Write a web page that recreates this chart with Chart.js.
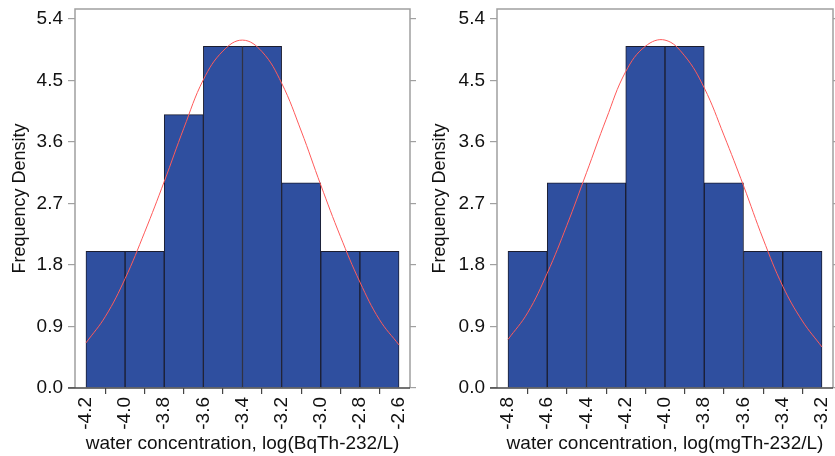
<!DOCTYPE html>
<html>
<head>
<meta charset="utf-8">
<script src="https://cdn.jsdelivr.net/npm/chart.js@4/dist/chart.umd.min.js"></script>
<style>
  html, body { margin: 0; padding: 0; background: #fff; }
  #wrap { position: relative; width: 835px; height: 456px; overflow: hidden; }
  .panel { position: absolute; top: 0; }
</style>
</head>
<body>
<div id="wrap">
  <div class="panel" style="left:0"><canvas id="c1" width="420" height="456"></canvas></div>
  <div class="panel" style="left:420px"><canvas id="c2" width="415" height="456"></canvas></div>
</div>
<script>
// Histogram bins (edges) and counts for each unit
const bqEdges = [-4.2, -4.0, -3.8, -3.6, -3.4, -3.2, -3.0, -2.8, -2.6];
const bqCounts = [2, 2, 4, 5, 5, 3, 2, 2];
const mgEdges = [-4.8, -4.6, -4.4, -4.2, -4.0, -3.8, -3.6, -3.4, -3.2];
const mgCounts = [2, 3, 3, 5, 5, 3, 2, 2];

// Fitted normal curves, sampled every 0.1
const bqCurveX = [-4.2, -4.1, -4.0, -3.9, -3.8, -3.7, -3.6, -3.5, -3.4, -3.3, -3.2, -3.1, -3.0, -2.9, -2.8, -2.7, -2.6];
const bqCurveY = [0.66, 1.05, 1.60, 2.28, 3.02, 3.80, 4.51, 4.93, 5.09, 4.92, 4.46, 3.76, 2.97, 2.22, 1.55, 1.00, 0.63];
const mgCurveX = [-4.8, -4.7, -4.6, -4.5, -4.4, -4.3, -4.2, -4.1, -4.0, -3.9, -3.8, -3.7, -3.6, -3.5, -3.4, -3.3, -3.2];
const mgCurveY = [0.71, 1.10, 1.68, 2.38, 3.15, 3.93, 4.63, 5.00, 5.09, 4.86, 4.39, 3.70, 2.96, 2.18, 1.49, 0.98, 0.60];

// Axis ticks
const yTicks = [0.0, 0.9, 1.8, 2.7, 3.6, 4.5, 5.4];
const bqXTicks = [-4.2, -4.0, -3.8, -3.6, -3.4, -3.2, -3.0, -2.8, -2.6];
const mgXTicks = [-4.8, -4.6, -4.4, -4.2, -4.0, -3.8, -3.6, -3.4, -3.2];

const yAxisTitle = 'Frequency Density';
const bqXTitle = 'water concentration, log(BqTh-232/L)';
const mgXTitle = 'water concentration, log(mgTh-232/L)';

const FONT = "'Liberation Sans', Arial, sans-serif";

// Frame around the plotting area
const framePlugin = {
  id: 'frame',
  afterDraw(chart) {
    const { ctx, chartArea: a } = chart;
    ctx.save();
    ctx.lineWidth = 1.5;
    ctx.strokeStyle = '#a0a0a0';
    ctx.beginPath();
    ctx.moveTo(a.left, a.bottom);
    ctx.lineTo(a.left, a.top);
    ctx.lineTo(a.right, a.top);
    ctx.lineTo(a.right, a.bottom);
    ctx.stroke();
    ctx.strokeStyle = '#444';
    ctx.beginPath();
    ctx.moveTo(a.left - 7, a.bottom);
    ctx.lineTo(a.right, a.bottom);
    ctx.stroke();
    ctx.restore();
  }
};

function makeHistogram(canvasId, edges, counts, curveX, curveY, xTicks, xTitle, leftW, rightW) {
  const bars = counts.map((c, i) => ({ x: (edges[i] + edges[i + 1]) / 2, y: c }));
  const curve = curveX.map((x, i) => ({ x: x, y: curveY[i] }));
  const span = edges[edges.length - 1] - edges[0];
  const pad = span * 0.035;
  const setTicks = (vals) => (scale) => { scale.ticks = vals.map(v => ({ value: v })); };
  const noPad = (s) => { s.paddingLeft = 0; s.paddingRight = 0; s.paddingTop = 0; s.paddingBottom = 0; };

  new Chart(document.getElementById(canvasId), {
    type: 'bar',
    data: {
      datasets: [
        {
          type: 'line',
          data: curve,
          borderColor: '#ff5a5a',
          borderWidth: 1,
          pointRadius: 0,
          tension: 0.4,
          fill: false,
          order: 0
        },
        {
          type: 'bar',
          data: bars,
          backgroundColor: '#2f4f9f',
          borderColor: '#1b1d30',
          borderWidth: { left: 1, right: 1, top: 1, bottom: 0 },
          borderSkipped: false,
          barPercentage: 1,
          categoryPercentage: 1,
          order: 1
        }
      ]
    },
    options: {
      responsive: false,
      animation: false,
      events: [],
      layout: { padding: { top: 9, left: 0, right: 0, bottom: 0 } },
      plugins: { legend: { display: false }, tooltip: { enabled: false } },
      scales: {
        x: {
          type: 'linear',
          offset: false,
          min: edges[0] - pad,
          max: edges[edges.length - 1] + pad,
          afterBuildTicks: setTicks(xTicks),
          afterFit: (s) => { s.height = 68; noPad(s); },
          grid: { drawOnChartArea: false, drawTicks: true, tickLength: 6, color: '#444', lineWidth: 1.2 },
          border: { display: false },
          ticks: {
            autoSkip: false,
            minRotation: 90,
            maxRotation: 90,
            padding: 3,
            color: '#111',
            font: { family: FONT, size: 19 },
            callback: (v) => Number(v).toFixed(1)
          },
          title: {
            display: true,
            text: xTitle,
            color: '#111',
            font: { family: FONT, size: 19 },
            padding: { top: 0, bottom: 1 }
          }
        },
        y: {
          type: 'linear',
          position: 'left',
          min: 0,
          max: 5.545,
          afterBuildTicks: setTicks(yTicks),
          afterFit: (s) => { s.width = leftW; noPad(s); },
          grid: { drawOnChartArea: false, drawTicks: true, tickLength: 7, color: '#a0a0a0', lineWidth: 1.2 },
          border: { display: false },
          ticks: {
            padding: 5,
            color: '#111',
            font: { family: FONT, size: 19 },
            callback: (v) => Number(v).toFixed(1)
          },
          title: {
            display: true,
            text: yAxisTitle,
            color: '#111',
            font: { family: FONT, size: 18 },
            padding: { top: 9, bottom: 0 }
          }
        },
        y2: {
          type: 'linear',
          position: 'right',
          min: 0,
          max: 5.545,
          afterBuildTicks: setTicks(yTicks),
          afterFit: (s) => { s.width = rightW; noPad(s); },
          grid: { drawOnChartArea: false, drawTicks: true, tickLength: 6, color: '#a0a0a0', lineWidth: 1.2 },
          border: { display: false },
          ticks: { display: false }
        }
      }
    },
    plugins: [framePlugin]
  });
}

makeHistogram('c1', bqEdges, bqCounts, bqCurveX, bqCurveY, bqXTicks, bqXTitle, 75, 10);
makeHistogram('c2', mgEdges, mgCounts, mgCurveX, mgCurveY, mgXTicks, mgXTitle, 77, 2);
</script>
</body>
</html>
